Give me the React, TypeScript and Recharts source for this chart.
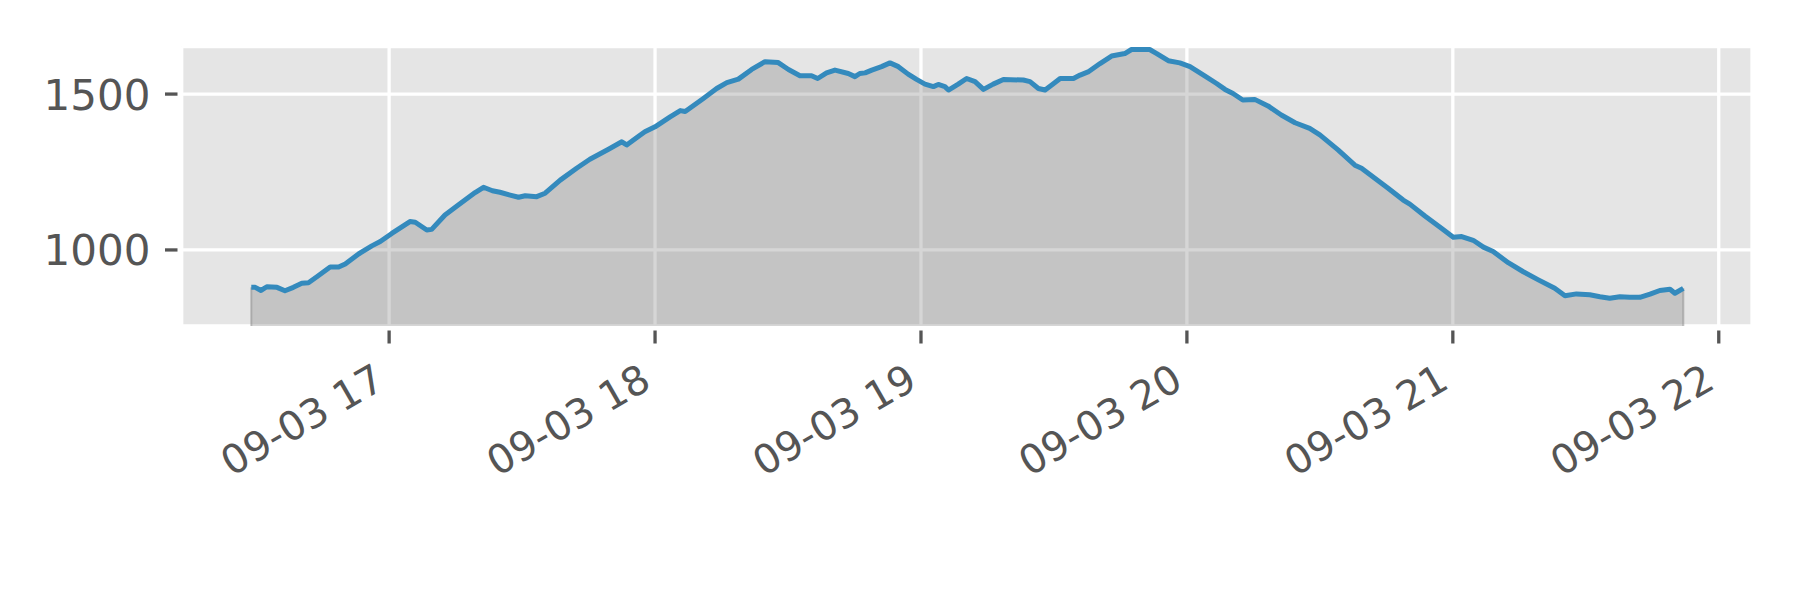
import {
  ComposedChart, Area, Line, XAxis, YAxis, CartesianGrid, ReferenceLine,
} from 'recharts'

// minutes after 16:00 on 09-03
const MINUTES = [
  28.9, 29.8, 31.1, 32.4, 34.7, 36.5, 38.4, 40.3, 41.8, 43.7,
  46.7, 48.6, 50.1, 53.1, 56.1, 58.0, 60.6, 64.7, 65.9, 68.5,
  69.6, 72.6, 75.6, 79.4, 81.3, 83.3, 85.0, 87.3, 89.2, 90.7,
  93.3, 95.2, 98.6, 102.3, 105.3, 109.5, 112.5, 113.6, 115.9, 117.7,
  120.0, 123.4, 125.7, 126.8, 130.9, 133.9, 136.2, 138.8, 141.8, 144.8,
  147.8, 150.1, 152.7, 155.3, 156.7, 158.7, 160.6, 163.6, 165.1, 166.2,
  167.4, 168.9, 171.1, 173.0, 174.9, 177.1, 179.0, 180.9, 182.8, 183.9,
  185.4, 186.2, 188.4, 190.3, 192.2, 194.1, 196.3, 198.6, 203.1, 204.6,
  206.5, 208.0, 209.5, 211.4, 214.4, 215.9, 217.7, 220.4, 223.0, 226.0,
  227.5, 231.6, 233.2, 235.8, 238.4, 240.7, 244.1, 246.7, 248.6, 250.4,
  252.6, 255.3, 258.3, 261.3, 264.4, 267.7, 270.0, 274.1, 277.9, 279.4,
  282.4, 285.4, 288.8, 290.3, 293.7, 297.5, 300.1, 302.0, 304.6, 306.9,
  309.1, 312.5, 315.9, 319.3, 323.0, 325.3, 327.9, 330.9, 333.2, 335.4,
  337.7, 339.9, 342.2, 344.5, 346.7, 349.0, 350.1, 352.0,
]

const VALUES = [
  880, 880, 870, 882, 880, 869, 880, 893, 895, 914,
  945, 945, 955, 987, 1013, 1027, 1053, 1091, 1089, 1064,
  1066, 1112, 1144, 1184, 1201, 1190, 1185, 1176, 1169, 1174,
  1171, 1182, 1224, 1262, 1291, 1323, 1347, 1337, 1361, 1379,
  1395, 1427, 1447, 1444, 1486, 1518, 1537, 1548, 1579, 1604,
  1601, 1579, 1559, 1559, 1550, 1568, 1577, 1566, 1556, 1566,
  1568, 1577, 1588, 1600, 1588, 1564, 1547, 1532, 1524, 1531,
  1524, 1513, 1532, 1550, 1540, 1515, 1532, 1547, 1545, 1540,
  1518, 1513, 1529, 1550, 1550, 1561, 1571, 1598, 1622, 1630,
  1643, 1643, 1630, 1607, 1600, 1588, 1558, 1534, 1515, 1502,
  1481, 1483, 1462, 1433, 1408, 1390, 1369, 1321, 1272, 1262,
  1230, 1198, 1160, 1147, 1109, 1069, 1041, 1043, 1031, 1009,
  995, 959, 930, 904, 877, 853, 859, 856, 850, 845,
  850, 848, 848, 858, 870, 874, 861, 877,
]

const X_TICKS = [60, 120, 180, 240, 300, 360]
const X_TICK_LABELS = ['09-03 17', '09-03 18', '09-03 19', '09-03 20', '09-03 21', '09-03 22']
const Y_TICKS = [1000, 1500]

const X_DOMAIN = [13.2, 367.5]
const Y_DOMAIN = [756, 1652]

const W = 1800
const H = 600
const PLOT_LEFT = 181.7
const PLOT_TOP = 46.7
const PLOT_RIGHT = 1752
const PLOT_BOTTOM = 326
const FONT = '"DejaVu Sans", sans-serif'
const INK = '#555555'

const data = MINUTES.map((t, i) => ({ t, v: VALUES[i] }))

function XTick({ x, payload }: any) {
  const label = X_TICK_LABELS[X_TICKS.indexOf(payload.value)]
  const ax = x - 2
  const ay = PLOT_BOTTOM + 61
  return (
    <g>
      <line x1={x} x2={x} y1={PLOT_BOTTOM + 4.5} y2={PLOT_BOTTOM + 17.5} stroke={INK} strokeWidth={3.3} />
      <text
        x={ax}
        y={ay}
        transform={`rotate(-30 ${ax} ${ay})`}
        textAnchor="end"
        fill={INK}
        fontFamily={FONT}
        fontSize={40}
      >
        {label}
      </text>
    </g>
  )
}

function YTick({ y, payload }: any) {
  return (
    <g>
      <line x1={PLOT_LEFT - 16.7} x2={PLOT_LEFT - 4.2} y1={y} y2={y} stroke={INK} strokeWidth={3.3} />
      <text
        x={PLOT_LEFT - 31.2}
        y={y + 15.5}
        textAnchor="end"
        fill={INK}
        fontFamily={FONT}
        fontSize={42}
      >
        {payload.value}
      </text>
    </g>
  )
}

export default function App() {
  const first = MINUTES[0]
  const last = MINUTES[MINUTES.length - 1]
  return (
    <div style={{ position: 'absolute', left: 0, top: 0, width: W, height: H, background: '#fff' }}>
      <ComposedChart
        width={W}
        height={H}
        data={data}
        margin={{ top: PLOT_TOP, right: W - PLOT_RIGHT, bottom: 0, left: 0 }}
      >
        <CartesianGrid fill="#E5E5E5" stroke="#ffffff" strokeWidth={3.3} />
        <XAxis
          dataKey="t"
          type="number"
          domain={X_DOMAIN}
          ticks={X_TICKS}
          interval={0}
          height={H - PLOT_BOTTOM}
          axisLine={false}
          tickLine={false}
          tick={(p: any) => <XTick {...p} />}
        />
        <YAxis
          type="number"
          domain={Y_DOMAIN}
          ticks={Y_TICKS}
          interval={0}
          width={PLOT_LEFT}
          axisLine={false}
          tickLine={false}
          tick={(p: any) => <YTick {...p} />}
        />
        <Area
          type="linear"
          dataKey="v"
          baseValue={Y_DOMAIN[0]}
          fill="#808080"
          fillOpacity={0.32}
          stroke="none"
          isAnimationActive={false}
        />
        <ReferenceLine
          segment={[{ x: first, y: Y_DOMAIN[0] }, { x: first, y: VALUES[0] }]}
          stroke="#808080"
          strokeOpacity={0.45}
          strokeWidth={2}
        />
        <ReferenceLine
          segment={[{ x: last, y: Y_DOMAIN[0] }, { x: last, y: VALUES[VALUES.length - 1] }]}
          stroke="#808080"
          strokeOpacity={0.45}
          strokeWidth={2}
        />
        <Line
          type="linear"
          dataKey="v"
          stroke="#348ABD"
          strokeWidth={5}
          strokeLinejoin="round"
          dot={false}
          activeDot={false}
          isAnimationActive={false}
        />
      </ComposedChart>
    </div>
  )
}
